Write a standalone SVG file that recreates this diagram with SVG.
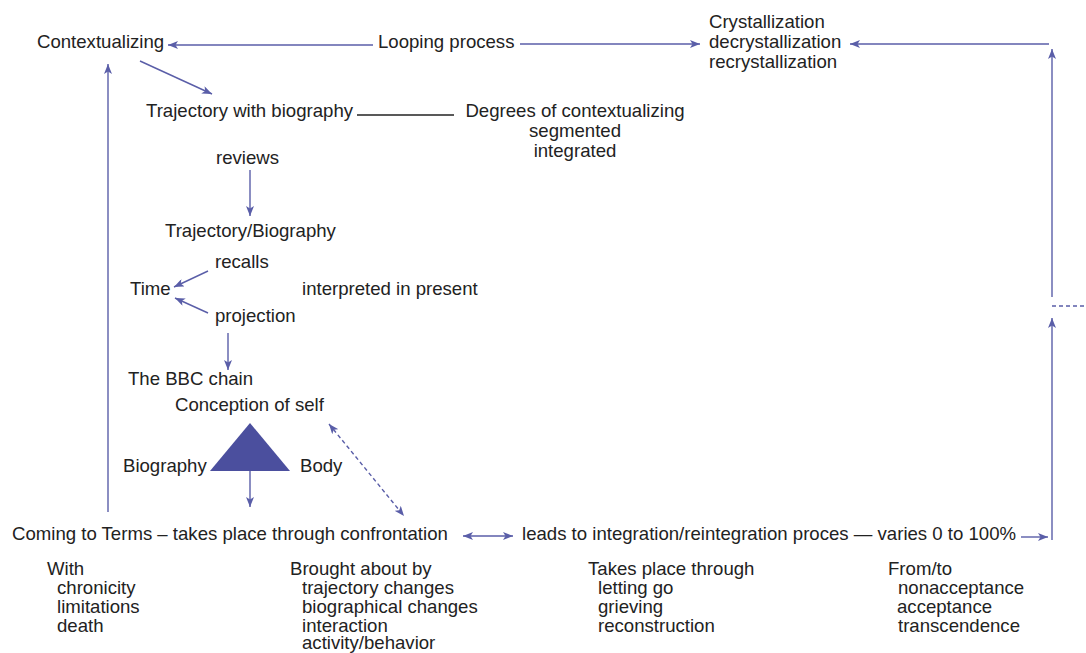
<svg xmlns="http://www.w3.org/2000/svg" width="1086" height="653" viewBox="0 0 1086 653">
<defs>
<marker id="ah" viewBox="0 0 10 8" refX="10" refY="4" markerWidth="10" markerHeight="8" markerUnits="userSpaceOnUse" orient="auto-start-reverse">
<path d="M0,0 L10,4 L0,8 L2.5,4 Z" fill="#5a5ea8"/>
</marker>
<style>
text{font-family:"Liberation Sans",Arial,sans-serif;font-size:18.6px;fill:#222}
.c{text-anchor:middle}
.l{stroke:#5a5ea8;stroke-width:1.4;fill:none}
.k{stroke:#222;stroke-width:1.3;fill:none}
.d{stroke-dasharray:4,3}
</style>
</defs>
<rect width="1086" height="653" fill="#fff"/>
<g id="connectors">
<line class="l" x1="373" y1="45" x2="168" y2="45" marker-end="url(#ah)"/>
<line class="l" x1="520" y1="44" x2="700" y2="44" marker-end="url(#ah)"/>
<line class="l" x1="1049" y1="44" x2="850" y2="44" marker-end="url(#ah)"/>
<line class="l" x1="1052" y1="297" x2="1052" y2="49" marker-end="url(#ah)"/>
<line class="l d" x1="1052" y1="306" x2="1086" y2="306"/>
<line class="l" x1="1052" y1="540" x2="1052" y2="318" marker-end="url(#ah)"/>
<line class="l" x1="1021" y1="537" x2="1048" y2="537" marker-end="url(#ah)"/>
<line class="l" x1="108" y1="512" x2="108" y2="64" marker-end="url(#ah)"/>
<line class="l" x1="140" y1="61" x2="212" y2="94" marker-end="url(#ah)"/>
<line class="k" x1="357" y1="115" x2="454" y2="115"/>
<line class="l" x1="250" y1="170" x2="250" y2="216" marker-end="url(#ah)"/>
<line class="l" x1="208" y1="271" x2="174" y2="287" marker-end="url(#ah)"/>
<line class="l" x1="208" y1="313" x2="175" y2="298" marker-end="url(#ah)"/>
<line class="l" x1="228" y1="333" x2="228" y2="370" marker-end="url(#ah)"/>
<line class="l" x1="250" y1="471" x2="250" y2="507" marker-end="url(#ah)"/>
<line class="l d" x1="329" y1="424" x2="404" y2="516" marker-start="url(#ah)" marker-end="url(#ah)"/>
<line class="l" x1="463" y1="536" x2="513" y2="536" marker-start="url(#ah)" marker-end="url(#ah)"/>
</g>
<g id="contextualizing"><text x="37" y="48">Contextualizing</text></g>
<g id="looping"><text x="378" y="48">Looping process</text></g>
<g id="crystallization"><text x="709" y="28">Crystallization</text><text x="709" y="48">decrystallization</text><text x="709" y="68">recrystallization</text></g>
<g id="trajectory-with-biography"><text x="146" y="117">Trajectory with biography</text></g>
<g id="degrees"><text class="c" x="575" y="117">Degrees of contextualizing</text><text class="c" x="575" y="137">segmented</text><text class="c" x="575" y="157">integrated</text></g>
<g id="reviews"><text x="216" y="164">reviews</text></g>
<g id="trajectory-biography"><text x="165" y="237">Trajectory/Biography</text></g>
<g id="recalls"><text x="215" y="268">recalls</text></g>
<g id="time"><text x="130" y="295">Time</text></g>
<g id="interpreted"><text x="302" y="295">interpreted in present</text></g>
<g id="projection"><text x="215" y="322">projection</text></g>
<g id="bbc"><text x="128" y="385">The BBC chain</text></g>
<g id="conception"><text x="175" y="411">Conception of self</text></g>
<g id="triangle"><polygon points="250,423 210,471 290,471" fill="#4b4f9e"/></g>
<g id="biography"><text x="123" y="472">Biography</text></g>
<g id="body"><text x="300" y="472">Body</text></g>
<g id="coming-to-terms"><text x="12" y="540">Coming to Terms – takes place through confrontation</text></g>
<g id="leads-to"><text x="522" y="540">leads to integration/reintegration proces — varies 0 to 100%</text></g>
<g id="with"><text x="47" y="575">With</text><text x="57" y="594">chronicity</text><text x="57" y="613">limitations</text><text x="57" y="632">death</text></g>
<g id="brought"><text x="290" y="575">Brought about by</text><text x="302" y="594">trajectory changes</text><text x="302" y="613">biographical changes</text><text x="302" y="632">interaction</text><text x="302" y="648.5">activity/behavior</text></g>
<g id="takes-place"><text x="588" y="575">Takes place through</text><text x="598" y="594">letting go</text><text x="598" y="613">grieving</text><text x="598" y="632">reconstruction</text></g>
<g id="from-to"><text x="888" y="575">From/to</text><text x="898" y="594">nonacceptance</text><text x="897" y="613">acceptance</text><text x="898" y="632">transcendence</text></g>
</svg>
